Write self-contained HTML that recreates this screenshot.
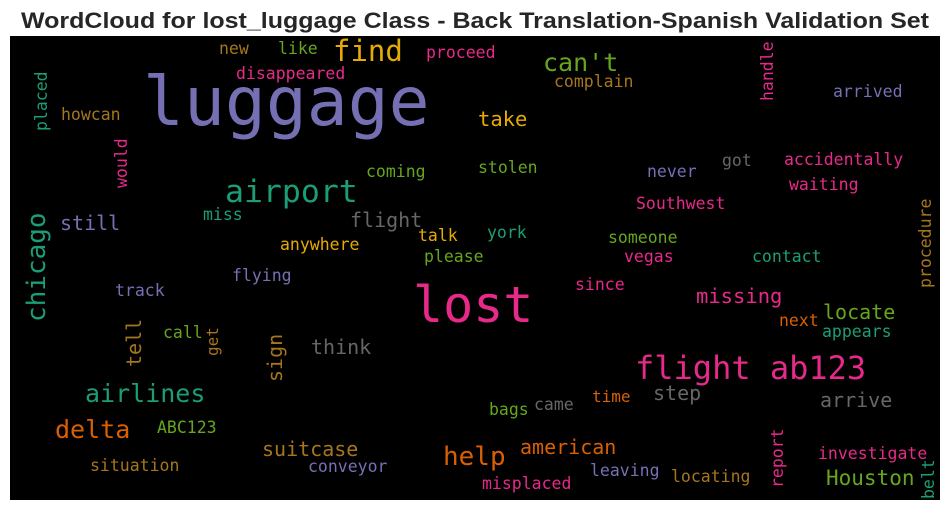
<!DOCTYPE html>
<html><head><meta charset="utf-8"><style>
html,body{margin:0;padding:0;background:#fff;width:950px;height:511px;overflow:hidden}
svg text{font-family:"DejaVu Sans Mono","Liberation Mono",monospace}
</style></head><body>
<svg width="950" height="511" xmlns="http://www.w3.org/2000/svg">
<text x="475" y="28" text-anchor="middle" font-size="22" font-weight="bold" fill="#262626" style="font-family:'Liberation Sans',sans-serif" textLength="908" lengthAdjust="spacingAndGlyphs">WordCloud for lost_luggage Class - Back Translation-Spanish Validation Set</text>
<rect x="10" y="36" width="930" height="464" fill="#000"/>
<g>
<text x="143" y="125" font-size="68" fill="#7570b3">luggage</text>
<text x="413" y="322" font-size="50" fill="#e7298a">lost</text>
<text x="635" y="379" font-size="32" fill="#e7298a">flight ab123</text>
<text x="225" y="202" font-size="31.5" fill="#1b9e77">airport</text>
<text x="333" y="61" font-size="29" fill="#e6ab02">find</text>
<text x="543" y="71" font-size="25" fill="#66a61e">can't</text>
<text x="478" y="126" font-size="20.5" fill="#e6ab02">take</text>
<text transform="translate(45,322) rotate(-90)" font-size="26" fill="#1b9e77">chicago</text>
<text x="60" y="230" font-size="20" fill="#7570b3">still</text>
<text x="350" y="227" font-size="20" fill="#666666">flight</text>
<text x="55" y="438" font-size="25" fill="#d95f02">delta</text>
<text x="85" y="402" font-size="25" fill="#1b9e77">airlines</text>
<text x="443" y="465" font-size="26" fill="#d95f02">help</text>
<text x="826" y="485" font-size="21" fill="#66a61e">Houston</text>
<text x="823" y="319" font-size="20" fill="#66a61e">locate</text>
<text x="696" y="303" font-size="20.5" fill="#e7298a">missing</text>
<text x="520" y="454" font-size="20" fill="#d95f02">american</text>
<text x="262" y="456" font-size="20" fill="#a6761d">suitcase</text>
<text x="820" y="407" font-size="20" fill="#666666">arrive</text>
<text x="653" y="400" font-size="20" fill="#666666">step</text>
<text x="311" y="354" font-size="20" fill="#666666">think</text>
<text x="592" y="402" font-size="16" fill="#d95f02">time</text>
<g font-size="16.5">
<text x="219" y="54" fill="#a6761d">new</text>
<text x="278" y="54" fill="#66a61e">like</text>
<text x="426" y="58" fill="#e7298a">proceed</text>
<text x="236" y="79" fill="#e7298a">disappeared</text>
<text x="554" y="87" fill="#a6761d">complain</text>
<text x="61" y="120" fill="#a6761d">howcan</text>
<text x="833" y="97" fill="#7570b3">arrived</text>
<text x="784" y="165" fill="#e7298a">accidentally</text>
<text x="722" y="166" fill="#666666">got</text>
<text x="647" y="177" fill="#7570b3">never</text>
<text x="478" y="173" fill="#66a61e">stolen</text>
<text x="366" y="177" fill="#66a61e">coming</text>
<text x="789" y="190" fill="#e7298a">waiting</text>
<text x="636" y="209" fill="#e7298a">Southwest</text>
<text x="203" y="220" fill="#1b9e77">miss</text>
<text x="418" y="241" fill="#e6ab02">talk</text>
<text x="487" y="238" fill="#1b9e77">york</text>
<text x="608" y="243" fill="#66a61e">someone</text>
<text x="280" y="250" fill="#e6ab02">anywhere</text>
<text x="424" y="262" fill="#66a61e">please</text>
<text x="624" y="262" fill="#e7298a">vegas</text>
<text x="752" y="262" fill="#1b9e77">contact</text>
<text x="232" y="281" fill="#7570b3">flying</text>
<text x="115" y="296" fill="#7570b3">track</text>
<text x="575" y="290" fill="#e7298a">since</text>
<text x="779" y="326" fill="#d95f02">next</text>
<text x="822" y="337" fill="#1b9e77">appears</text>
<text x="163" y="338" fill="#66a61e">call</text>
<text x="489" y="415" fill="#66a61e">bags</text>
<text x="534" y="410" fill="#666666">came</text>
<text x="157" y="433" fill="#66a61e">ABC123</text>
<text x="90" y="471" fill="#a6761d">situation</text>
<text x="308" y="472" fill="#7570b3">conveyor</text>
<text x="818" y="459" fill="#e7298a">investigate</text>
<text x="590" y="476" fill="#7570b3">leaving</text>
<text x="671" y="482" fill="#a6761d">locating</text>
<text x="482" y="489" fill="#e7298a">misplaced</text>
<text transform="translate(47,131) rotate(-90)" fill="#1b9e77">placed</text>
<text transform="translate(127,188) rotate(-90)" fill="#e7298a">would</text>
<text transform="translate(218,356) rotate(-90)" fill="#a6761d" font-size="16">get</text>
<text transform="translate(773,101) rotate(-90)" fill="#e7298a">handle</text>
<text transform="translate(931,288) rotate(-90)" fill="#a6761d">procedure</text>
<text transform="translate(783,488) rotate(-90)" fill="#e7298a">report</text>
<text transform="translate(934,499) rotate(-90)" fill="#1b9e77">belt</text>
</g>
<text transform="translate(141,367) rotate(-90)" font-size="20" fill="#a6761d">tell</text>
<text transform="translate(282,382) rotate(-90)" font-size="20" fill="#a6761d">sign</text>
</g>
</svg>
</body></html>
